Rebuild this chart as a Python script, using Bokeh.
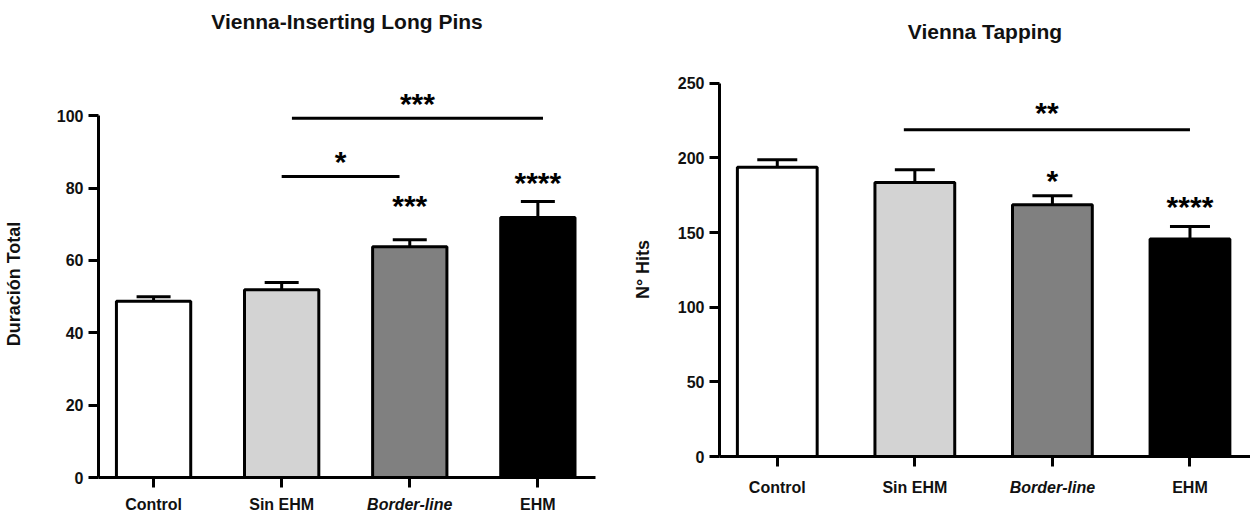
from bokeh.plotting import figure
from bokeh.models import (ColumnDataSource, Range1d, FixedTicker, Whisker, TeeHead, Title,
                          LinearAxis)
from bokeh.layouts import row
from bokeh.embed import file_html
from bokeh.resources import INLINE
from bokeh.core.properties import value

# ---------------- data ----------------
categories = ["Control", "Sin EHM", "Border-line", "EHM"]
bar_colors = ["#ffffff", "#d3d3d3", "#808080", "#000000"]

pins_mean = [48.7, 51.9, 63.8, 71.9]
pins_err = [1.3, 2.0, 1.9, 4.4]
pins_sig_group = [2, 3]
pins_sig_text = ["***", "****"]
pins_sig_y = [75.7, 82.0]
pins_bracket_start = [1.08, 1.0]
pins_bracket_end = [3.04, 1.92]
pins_bracket_y = [99.3, 83.2]
pins_bracket_text = ["***", "*"]
pins_bracket_text_y = [104.0, 88.0]
pins_ticks = [0, 20, 40, 60, 80, 100]

tap_mean = [193.7, 183.6, 168.7, 145.7]
tap_err = [5.0, 8.5, 6.0, 8.3]
tap_sig_group = [2, 3]
tap_sig_text = ["*", "****"]
tap_sig_y = [186.0, 168.7]
tap_bracket_start = [0.92]
tap_bracket_end = [3.0]
tap_bracket_y = [218.8]
tap_bracket_text = ["**"]
tap_bracket_text_y = [231.7]
tap_ticks = [0, 50, 100, 150, 200, 250]

FONT = "Liberation Sans"
STAR_FS = 30
LABEL_FS = 16


def panel(title, ylabel, means, errs, sig_group, sig_text, sig_y,
          b_start, b_end, b_y, b_text, b_text_y, ticks,
          x_rng, y_rng, borders, spacer, ylabel_standoff, xlabel_standoff, cap):
    left, right, top, bottom = borders
    xs = list(range(len(categories)))
    src = ColumnDataSource(dict(x=xs, top=means, upper=[m + e for m, e in zip(means, errs)],
                                color=bar_colors))
    p = figure(width=625, height=517, output_backend="svg", toolbar_location=None,
               x_range=Range1d(*x_rng), y_range=Range1d(*y_rng),
               min_border_left=left, min_border_right=right,
               min_border_top=top, min_border_bottom=bottom)
    p.frame_align = False
    p.add_layout(Title(text=" ", text_font_size="1px", standoff=spacer), "above")
    p.add_layout(Title(text=title, align="center", vertical_align="bottom", standoff=10,
                       text_font=FONT, text_font_size="21px", text_font_style="bold",
                       text_color="#111111"), "above")
    p.outline_line_color = None
    p.xgrid.visible = False
    p.ygrid.visible = False
    p.background_fill_color = "white"
    p.border_fill_color = "white"

    p.vbar(x="x", top="top", bottom=0, width=0.58, source=src, fill_color="color",
           line_color="black", line_width=3)
    p.add_layout(Whisker(base="x", lower="top", upper="upper", source=src, dimension="height",
                         line_width=3, line_color="black", lower_head=None,
                         upper_head=TeeHead(size=cap, line_width=3, line_color="black"),
                         level="annotation"))

    # significance above bars
    sx = [xs[g] for g in sig_group]
    p.text(x=sx, y=sig_y, text=sig_text, text_align="center", text_baseline="alphabetic",
           y_offset=2, text_font=value(FONT), text_font_style="bold",
           text_font_size=f"{STAR_FS}px", text_color="black")
    # brackets
    p.segment(x0=b_start, x1=b_end, y0=b_y, y1=b_y, line_width=3, line_color="black")
    p.text(x=[(a + b) / 2 for a, b in zip(b_start, b_end)], y=b_text_y, text=b_text,
           text_align="center", text_baseline="alphabetic", y_offset=2,
           text_font=value(FONT), text_font_style="bold", text_font_size=f"{STAR_FS}px",
           text_color="black")

    # axes
    ya = p.yaxis[0]
    ya.ticker = FixedTicker(ticks=ticks)
    ya.bounds = (ticks[0], ticks[-1])
    ya.axis_label = ylabel
    ya.axis_label_text_font = FONT
    ya.axis_label_text_font_style = "bold"
    ya.axis_label_text_font_size = "18px"
    ya.axis_label_text_color = "#111111"
    ya.axis_label_standoff = ylabel_standoff
    ya.major_label_text_font = FONT
    ya.major_label_text_font_style = "bold"
    ya.major_label_text_font_size = "16px"
    ya.major_label_text_color = "#111111"
    ya.major_label_standoff = 5
    ya.axis_line_width = 3
    ya.major_tick_line_width = 3
    ya.major_tick_out = 10
    ya.major_tick_in = 0
    ya.minor_tick_line_color = None

    bi = categories.index("Border-line")
    xa = p.xaxis[0]
    xa.ticker = FixedTicker(ticks=xs)
    xa.major_label_overrides = {i: (c if i != bi else "") for i, c in enumerate(categories)}
    xa.major_label_text_font = FONT
    xa.major_label_text_font_style = "bold"
    xa.major_label_text_font_size = f"{LABEL_FS}px"
    xa.major_label_text_color = "#111111"
    xa.major_label_standoff = xlabel_standoff
    xa.axis_label_standoff = 0
    xa.axis_line_width = 3
    xa.major_tick_line_width = 3
    xa.major_tick_out = 10
    xa.major_tick_in = 0
    xa.minor_tick_line_color = None

    # italic category label on a companion axis, pulled up into the same row
    xa2 = LinearAxis(ticker=FixedTicker(ticks=[xs[bi]]),
                     major_label_overrides={xs[bi]: categories[bi]},
                     major_label_text_font=FONT, major_label_text_font_style="bold italic",
                     major_label_text_font_size=f"{LABEL_FS}px",
                     major_label_text_color="#111111",
                     major_label_standoff=-20, axis_label_standoff=0,
                     axis_line_color=None, major_tick_line_color=None,
                     major_tick_out=0, major_tick_in=0, minor_tick_line_color=None)
    p.add_layout(xa2, "below")
    return p


p1 = panel("Vienna-Inserting Long Pins", "Duración Total", pins_mean, pins_err,
           pins_sig_group, pins_sig_text, pins_sig_y,
           pins_bracket_start, pins_bracket_end, pins_bracket_y, pins_bracket_text,
           pins_bracket_text_y, pins_ticks,
           (-0.43, 3.45), (0, 107), (97, 30, 90, 40), 50, 30, 8, 34)
p2 = panel("Vienna Tapping", "N° Hits", tap_mean, tap_err,
           tap_sig_group, tap_sig_text, tap_sig_y,
           tap_bracket_start, tap_bracket_end, tap_bracket_y, tap_bracket_text,
           tap_bracket_text_y, tap_ticks,
           (-0.42, 3.44), (0, 250.5), (94, 0, 82, 61), 32, 22, 12, 40)

layout = row(p1, p2)
open("out.html", "w").write(file_html(layout, INLINE))
